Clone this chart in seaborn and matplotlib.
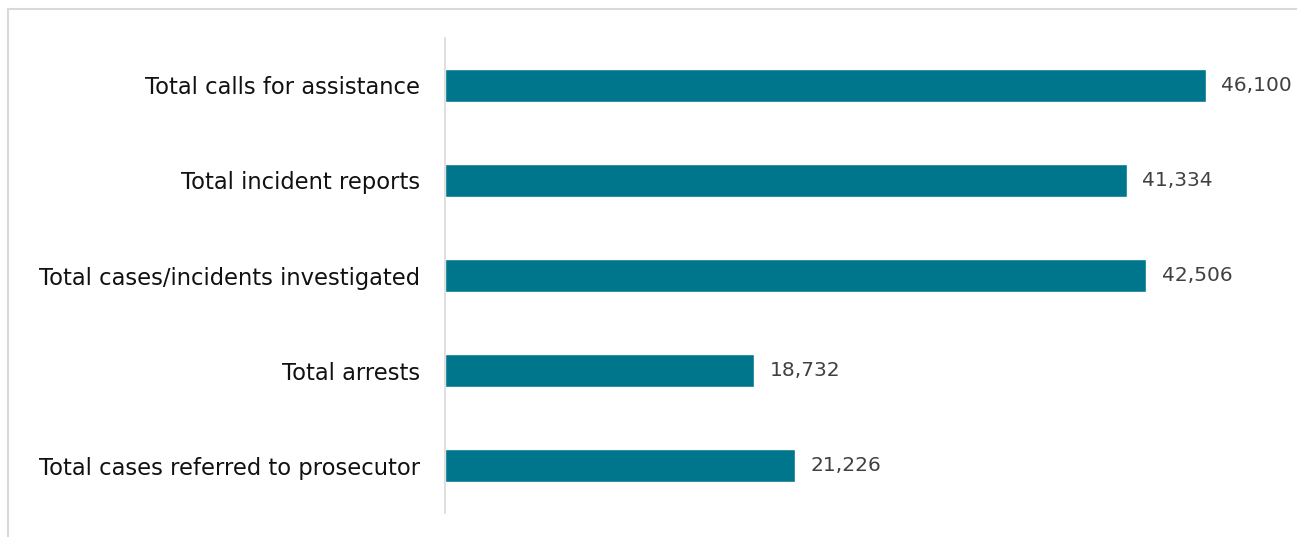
import pandas as pd
import seaborn as sns
import matplotlib.pyplot as plt
import matplotlib.patches as patches

categories = ["Total calls for assistance", "Total incident reports",
              "Total cases/incidents investigated", "Total arrests",
              "Total cases referred to prosecutor"]
values = [46100, 41334, 42506, 18732, 21226]

df = pd.DataFrame({"Kategorie": categories, "Wert": values})

sns.set_style("white")
plt.rcParams['font.family'] = ['DejaVu Sans']

fig = plt.figure(figsize=(12.97, 5.37), dpi=100)
ax = fig.add_axes([445 / 1297, 1 - 513 / 537, 825 / 1297, 475 / 537])

bar = sns.barplot(x="Wert", y="Kategorie", data=df, ax=ax, color="#00768C",
                  width=0.35, orient="h", saturation=1)

ax.set_xlim(0, 50000)
ax.set(xlabel=None, ylabel=None, xticks=[])
for s in ["top", "right", "bottom"]:
    ax.spines[s].set_visible(False)
ax.spines["left"].set_color("#D9D9D9")
ax.spines["left"].set_linewidth(1.2)
ax.tick_params(axis="y", length=0, pad=18, labelsize=16.3, labelcolor="#111111")

for p in bar.patches:
    w = p.get_width()
    bar.annotate(format(int(w), ","), (w, p.get_y() + p.get_height() / 2.),
                 ha="left", va="center", xytext=(11, 0), textcoords="offset points",
                 fontsize=14.5, color="#404040")

# Rahmen um das Diagramm
rahmen = patches.Rectangle((8 / 1297, -0.1), 1.2, 1 - 9 / 537 + 0.1,
                           transform=fig.transFigure, fill=False,
                           edgecolor="#D9D9D9", linewidth=1.5)
fig.add_artist(rahmen)

plt.savefig("out.png", dpi=100)
